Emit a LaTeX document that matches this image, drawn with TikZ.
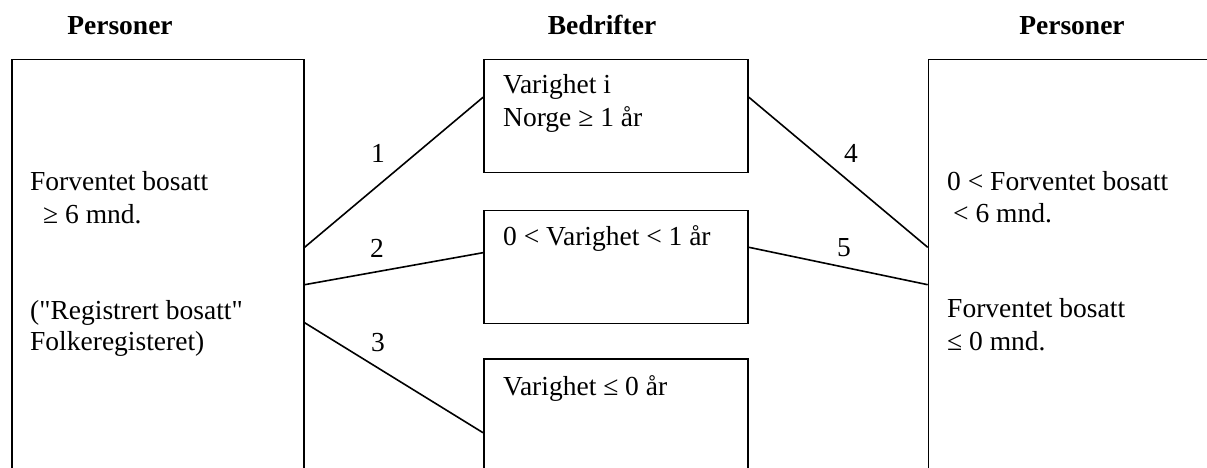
\documentclass[tikz,border=0pt]{standalone}
\usepackage{fontspec}
\setmainfont{Liberation Serif}[Ligatures=TeXOff]
\usetikzlibrary{calc}
\begin{document}
\begin{tikzpicture}[x=1pt,y=-1pt,
  box/.style={draw, line width=1.6pt, rectangle, inner sep=0pt, anchor=north west},
  txt/.style={anchor=base west, inner sep=0pt, font=\fontsize{27.5}{33}\selectfont},
  head/.style={anchor=base, inner sep=0pt, font=\fontsize{27.5}{33}\selectfont\bfseries},
  lbl/.style={anchor=base, inner sep=0pt, font=\fontsize{27.5}{33}\selectfont},
  conn/.style={line width=1.6pt}]
\useasboundingbox (0,0) rectangle (1207,468);
\clip (0,0) rectangle (1207,468);
% headers
\node[head] (h1) at (120,35) {Personer};
\node[head] (h2) at (602,35) {Bedrifter};
\node[head] (h3) at (1072,35) {Personer};
% boxes
\node[box, minimum width=292pt, minimum height=500pt] (L) at (11,58.7) {};
\node[box, minimum width=264.3pt, minimum height=113pt] (B1) at (483,58.7) {};
\node[box, minimum width=264.3pt, minimum height=113pt] (B2) at (483,209.7) {};
\node[box, minimum width=264.3pt, minimum height=200pt] (B3) at (483,358) {};
\node[box, minimum width=400pt, minimum height=500pt] (R) at (927.7,58.7) {};
% left texts
\node[txt] (l1) at (30,190) {Forventet bosatt};
\node[txt] (l2) at (43,223) {≥ 6 mnd.};
\node[txt] (l3) at (30,319) {("Registrert bosatt"};
\node[txt] (l4) at (30,350) {Folkeregisteret)};
% middle texts
\node[txt] (m1) at (503,94) {Varighet i};
\node[txt] (m2) at (503,127) {Norge ≥ 1 år};
\node[txt] (m3) at (503,245) {0 < Varighet < 1 år};
\node[txt] (m4) at (503,395) {Varighet ≤ 0 år};
% right texts
\node[txt] (r1) at (947,190) {0 < Forventet bosatt};
\node[txt] (r2) at (953,222) {< 6 mnd.};
\node[txt] (r3) at (947,317) {Forventet bosatt};
\node[txt] (r4) at (947,350) {≤ 0 mnd.};
% connectors
\draw[conn] ($(L.north east)+(0,188.6)$) -- ($(B1.north west)+(0,38.6)$);
\draw[conn] ($(L.north east)+(0,226)$) -- ($(B2.north west)+(0,43)$);
\draw[conn] ($(L.north east)+(0,264)$) -- ($(B3.north west)+(0,74.7)$);
\draw[conn] ($(B1.north east)+(0,38.6)$) -- ($(R.north west)+(0,188.6)$);
\draw[conn] ($(B2.north east)+(0,37.6)$) -- ($(R.north west)+(0,226)$);
% connector labels
\node[lbl] (n1) at (378,162) {1};
\node[lbl] (n2) at (377,257) {2};
\node[lbl] (n3) at (378,351) {3};
\node[lbl] (n4) at (851,162) {4};
\node[lbl] (n5) at (844,256) {5};
\end{tikzpicture}
\end{document}
